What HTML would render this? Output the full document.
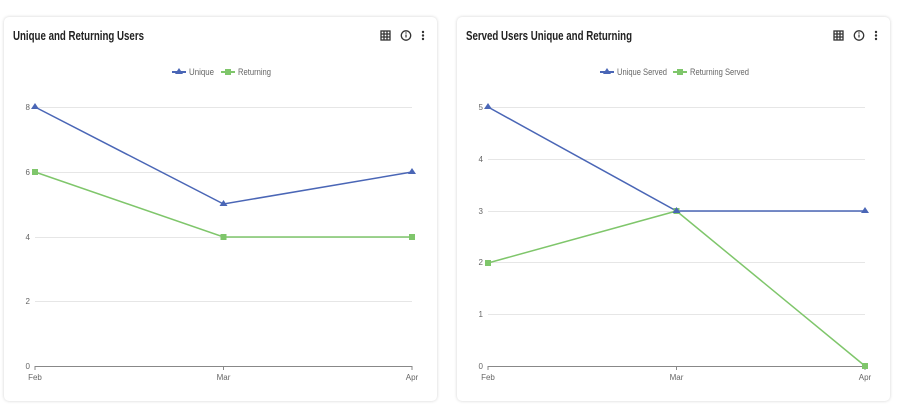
<!DOCTYPE html>
<html><head><style>
body{margin:0;background:#fff;width:900px;height:413px;overflow:hidden;font-family:"Liberation Sans",sans-serif}
.card{position:absolute;top:17px;width:433px;height:384px;background:#fff;border-radius:5px;box-shadow:0 0 3px rgba(0,0,0,.18)}
</style></head><body>
<div class="card" style="left:4px"></div>
<div class="card" style="left:457px"></div>
<svg width="900" height="413" style="position:absolute;left:0;top:0" font-family="Liberation Sans, sans-serif">
<text x="13" y="40" font-size="13" font-weight="bold" fill="#222" textLength="131" lengthAdjust="spacingAndGlyphs">Unique and Returning Users</text>
<text x="466" y="40" font-size="13" font-weight="bold" fill="#222" textLength="166" lengthAdjust="spacingAndGlyphs">Served Users Unique and Returning</text>
<!-- icons -->
<g fill="none" stroke="#333" stroke-width="1.3">
<rect x="381" y="31" width="9" height="9"/><path d="M384 31v9M387 31v9M381 34h9M381 37h9"/>
<circle cx="406" cy="35.5" r="4.7"/>
<rect x="834" y="31" width="9" height="9"/><path d="M837 31v9M840 31v9M834 34h9M834 37h9"/>
<circle cx="859" cy="35.5" r="4.7"/>
</g>
<g fill="#333"><rect x="405.4" y="34.5" width="1.2" height="3"/><circle cx="406" cy="33" r=".7"/>
<circle cx="423" cy="32" r="1.2"/><circle cx="423" cy="35.5" r="1.2"/><circle cx="423" cy="39" r="1.2"/>
<rect x="858.4" y="34.5" width="1.2" height="3"/><circle cx="859" cy="33" r=".7"/>
<circle cx="876" cy="32" r="1.2"/><circle cx="876" cy="35.5" r="1.2"/><circle cx="876" cy="39" r="1.2"/></g>
<!-- legends -->
<g font-size="9" fill="#666">
<path d="M172 72h14" stroke="#4a66b6" stroke-width="2"/><path d="M179 68l4 6h-8z" fill="#4a66b6"/>
<text x="189" y="75" textLength="25" lengthAdjust="spacingAndGlyphs">Unique</text>
<path d="M221 72h14" stroke="#7fc66b" stroke-width="2"/><rect x="225" y="69" width="6" height="6" fill="#7fc66b"/>
<text x="238" y="75" textLength="33" lengthAdjust="spacingAndGlyphs">Returning</text>
<path d="M600 72h14" stroke="#4a66b6" stroke-width="2"/><path d="M607 68l4 6h-8z" fill="#4a66b6"/>
<text x="617" y="75" textLength="50" lengthAdjust="spacingAndGlyphs">Unique Served</text>
<path d="M673 72h14" stroke="#7fc66b" stroke-width="2"/><rect x="677" y="69" width="6" height="6" fill="#7fc66b"/>
<text x="690" y="75" textLength="59" lengthAdjust="spacingAndGlyphs">Returning Served</text>
</g>
<!-- grids -->
<g stroke="#e6e6e6" stroke-width="1">
<path d="M35 107.5H412M35 172.5H412M35 237.5H412M35 301.5H412"/>
<path d="M488 107.5H865M488 159.5H865M488 211.5H865M488 262.5H865M488 314.5H865"/>
</g>
<g stroke="#888" stroke-width="1" fill="none">
<path d="M35 366.5H412M35 366v4M223.5 366v4M412 366v4"/>
<path d="M488 366.5H865M488 366v4M676.5 366v4M865 366v4"/>
</g>
<g font-size="8" fill="#666" text-anchor="end">
<text x="30" y="110">8</text><text x="30" y="175">6</text><text x="30" y="240">4</text><text x="30" y="304">2</text><text x="30" y="369">0</text>
<text x="483" y="110">5</text><text x="483" y="162">4</text><text x="483" y="214">3</text><text x="483" y="265">2</text><text x="483" y="317">1</text><text x="483" y="369">0</text>
</g>
<g font-size="8" fill="#666" text-anchor="middle">
<text x="35" y="380">Feb</text><text x="223.5" y="380">Mar</text><text x="412" y="380">Apr</text>
<text x="488" y="380">Feb</text><text x="676.5" y="380">Mar</text><text x="865" y="380">Apr</text>
</g>
<!-- series -->
<g fill="none" stroke-width="1.5">
<polyline points="35,107 223.5,204 412,172" stroke="#4a66b6"/>
<polyline points="35,172 223.5,237 412,237" stroke="#7fc66b"/>
<polyline points="488,107 676.5,211 865,211" stroke="#4a66b6"/>
<polyline points="488,263 676.5,211 865,366" stroke="#7fc66b"/>
</g>
<g fill="#7fc66b">
<rect x="32" y="169" width="6" height="6"/><rect x="220.5" y="234" width="6" height="6"/><rect x="409" y="234" width="6" height="6"/>
<rect x="485" y="260" width="6" height="6"/><rect x="673.5" y="208" width="6" height="6"/><rect x="862" y="363" width="6" height="6"/>
</g>
<g fill="#4a66b6">
<path d="M35 103l4 6h-8zM223.5 200l4 6h-8zM412 168l4 6h-8z"/>
<path d="M488 103l4 6h-8zM676.5 207l4 6h-8zM865 207l4 6h-8z"/>
</g>
</svg>
</body></html>
